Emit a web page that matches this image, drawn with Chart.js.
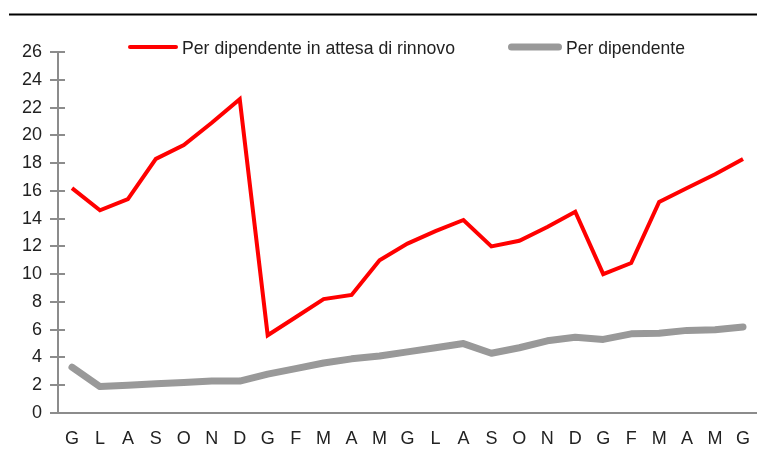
<!DOCTYPE html>
<html>
<head>
<meta charset="utf-8">
<script src="https://cdn.jsdelivr.net/npm/chart.js@4/dist/chart.umd.min.js"></script>
<style>
  html, body { margin:0; padding:0; background:#fff; }
  #wrap { width:757px; height:459px; position:relative; }
</style>
</head>
<body>
<div id="wrap"><canvas id="myChart"></canvas></div>
<script>
const months = ['G','L','A','S','O','N','D','G','F','M','A','M','G','L','A','S','O','N','D','G','F','M','A','M','G'];
const inAttesa = [16.2,14.6,15.4,18.3,19.3,20.9,22.6,5.6,6.9,8.2,8.5,11.0,12.2,13.1,13.9,12.0,12.4,13.4,14.5,10.0,10.8,15.2,16.2,17.2,18.3];
const perDip = [3.3,1.9,2.0,2.1,2.2,2.3,2.3,2.8,3.2,3.6,3.9,4.1,4.4,4.7,5.0,4.3,4.7,5.2,5.45,5.3,5.7,5.75,5.95,6.0,6.2];
const seriesNames = ['Per dipendente in attesa di rinnovo','Per dipendente'];

const FONT = '"Liberation Sans", Arial, sans-serif';
const axisGray = '#8c8c8c';

// top rule, cross ticks on y axis, legend
const extras = {
    id: 'extras',
    afterDraw(chart) {
        const ctx = chart.ctx;
        const y = chart.scales.y;
        const area = chart.chartArea;
        ctx.save();
        ctx.strokeStyle = '#000';
        ctx.lineWidth = 2;
        ctx.beginPath();
        ctx.moveTo(9, 14.5);
        ctx.lineTo(757, 14.5);
        ctx.stroke();

        ctx.strokeStyle = axisGray;
        ctx.lineWidth = 2;
        for (let v = 0; v <= 26; v += 2) {
            const py = Math.round(y.getPixelForValue(v));
            ctx.beginPath();
            ctx.moveTo(area.left - 8, py);
            ctx.lineTo(area.left + 7, py);
            ctx.stroke();
        }

        // legend (text squeezed a bit, the original uses a narrow face)
        const items = [
            {x: 128, w: 50, text: seriesNames[0], color: '#ff0000', lw: 4, tw: 273},
            {x: 508, w: 54, text: seriesNames[1], color: '#999999', lw: 7, tw: 119}
        ];
        ctx.font = '19px ' + FONT;
        ctx.textBaseline = 'middle';
        ctx.fillStyle = '#222';
        items.forEach(function(it){
            ctx.strokeStyle = it.color;
            ctx.lineWidth = it.lw;
            ctx.lineCap = 'round';
            ctx.beginPath();
            ctx.moveTo(it.x + it.lw/2, 47);
            ctx.lineTo(it.x + it.w - it.lw/2, 47);
            ctx.stroke();
            const tx = it.x + it.w + 4;
            const sx = Math.min(1, it.tw / ctx.measureText(it.text).width);
            ctx.save();
            ctx.translate(tx, 49);
            ctx.scale(sx, 1);
            ctx.fillText(it.text, 0, 0);
            ctx.restore();
        });
        ctx.restore();
    }
};

const ctx = document.getElementById('myChart').getContext('2d');
const myChart = new Chart(ctx, {
    type: 'line',
    data: {
        labels: months,
        datasets: [{
            label: seriesNames[0],
            data: inAttesa,
            borderColor: '#ff0000',
            borderWidth: 4,
            pointRadius: 0,
            tension: 0,
            borderJoinStyle: 'miter'
        },{
            label: seriesNames[1],
            data: perDip,
            borderColor: '#999999',
            borderWidth: 7,
            pointRadius: 0,
            tension: 0,
            borderCapStyle: 'round',
            borderJoinStyle: 'round'
        }]
    },
    options: {
        responsive: true,
        maintainAspectRatio: false,
        animation: false,
        layout: { padding: { top: 52, left: 8, right: 0, bottom: 0 } },
        plugins: {
            legend: { display: false },
            tooltip: { enabled: false }
        },
        scales: {
            x: {
                offset: true,
                grid: { display: true, drawOnChartArea: false, drawTicks: true, tickLength: 15, color: 'rgba(0,0,0,0)' },
                border: { display: true, color: axisGray, width: 2 },
                ticks: {
                    color: '#222',
                    padding: 0,
                    maxRotation: 0,
                    autoSkip: false,
                    font: { size: 18, family: FONT }
                },
                afterFit(scale) { scale.height = 46; }
            },
            y: {
                min: 0,
                max: 26,
                grid: { display: false, drawTicks: false },
                border: { display: true, color: axisGray, width: 2 },
                ticks: {
                    stepSize: 2,
                    color: '#222',
                    padding: 16,
                    font: { size: 18, family: FONT }
                },
                afterFit(scale) { scale.width = 50; }
            }
        }
    },
    plugins: [extras]
});
</script>
</body>
</html>
